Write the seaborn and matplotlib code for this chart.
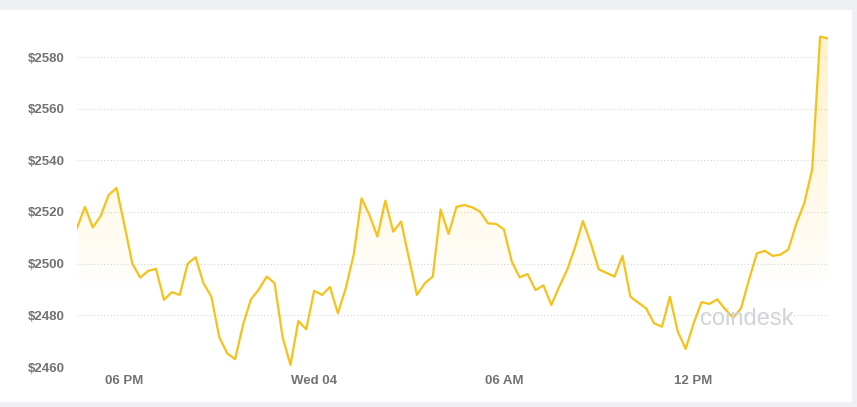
import numpy as np
import pandas as pd
import matplotlib
matplotlib.use("Agg")
import matplotlib.pyplot as plt
import matplotlib.dates as mdates
import seaborn as sns

# 15-minute ETH price samples, 16:30 Tue -> 16:15 Wed
start_time = "2021-08-03 16:30"
prices = [
    2513.8, 2522.0, 2514.0, 2518.5, 2526.6, 2529.3, 2515.0, 2500.0, 2494.6, 2497.2,
    2498.0, 2486.0, 2489.0, 2487.9, 2500.0, 2502.5, 2492.4, 2487.2, 2471.5, 2465.3,
    2463.0, 2476.3, 2486.2, 2490.0, 2495.0, 2492.4, 2471.7, 2460.8, 2477.8, 2474.6,
    2489.5, 2487.9, 2491.0, 2480.8, 2490.5, 2503.5, 2525.3, 2518.8, 2510.5, 2524.4,
    2512.4, 2516.3, 2502.0, 2487.9, 2492.4, 2495.0, 2521.0, 2511.5, 2522.0, 2522.7,
    2521.8, 2520.1, 2515.6, 2515.4, 2513.3, 2500.8, 2494.7, 2496.0, 2489.8, 2491.6,
    2484.0, 2491.1, 2497.6, 2506.3, 2516.5, 2507.9, 2497.8, 2496.4, 2495.0, 2503.0,
    2487.2, 2484.9, 2482.7, 2476.9, 2475.6, 2487.2, 2473.7, 2467.0, 2476.9, 2485.1,
    2484.4, 2486.2, 2482.3, 2479.1, 2482.7, 2493.7, 2504.0, 2505.0, 2503.0, 2503.5,
    2505.6, 2515.6, 2523.4, 2536.5, 2587.9, 2587.2,
]
y_ticks = [2460, 2480, 2500, 2520, 2540, 2560, 2580]
x_tick_times = ["2021-08-03 18:00", "2021-08-04 00:00", "2021-08-04 06:00", "2021-08-04 12:00"]
x_tick_labels = ["06 PM", "Wed 04", "06 AM", "12 PM"]

df = pd.DataFrame({
    "time": pd.date_range(start_time, periods=len(prices), freq="15min"),
    "price": prices,
})

line_color = "#f5c21b"
text_color = "#727272"
plt.rcParams["font.family"] = ["Liberation Sans", "DejaVu Sans"]

fig = plt.figure(figsize=(8.57, 4.07), dpi=100, facecolor="#eef0f4")

# white card behind the chart
bg = fig.add_axes([0, 5 / 407, 852 / 857, 392 / 407])
bg.set_facecolor("white")
bg.set_xticks([])
bg.set_yticks([])
for s in bg.spines.values():
    s.set_visible(False)
bg.set_zorder(-1)

ax = fig.add_axes([77 / 857, 40 / 407, 751 / 857, 341 / 407])
ax.set_facecolor("none")
ymin, ymax = 2460, 2592

sns.lineplot(data=df, x="time", y="price", ax=ax, color=line_color,
             linewidth=1.6, zorder=3)

# gradient fill under the line, fading out towards the lower part
xnum = mdates.date2num(df["time"])
poly = ax.fill_between(xnum, df["price"], ymin, color="none", linewidth=0)
levels = np.linspace(ymin, ymax, 200)
grad = np.zeros((200, 1, 4))
grad[:, 0, 0] = 1.0
grad[:, 0, 1] = 0.82
grad[:, 0, 2] = 0.30
grad[:, 0, 3] = np.clip((levels - 2492) / (2590 - 2492), 0, 1) ** 0.8 * 0.28
img = ax.imshow(grad, aspect="auto", origin="lower",
                extent=[xnum[0], xnum[-1], ymin, ymax], zorder=2)
img.set_clip_path(poly.get_paths()[0], transform=ax.transData)
ax.set_xlim(xnum[0], xnum[-1])
ax.set_ylim(ymin, ymax)

ax.set_yticks(y_ticks)
ax.set_yticklabels([f"${v}" for v in y_ticks])
for v in y_ticks:
    ax.axhline(v, color="#d6d6d6", linewidth=0.8, linestyle=(0, (1, 2)), zorder=1)

ax.set_xticks(mdates.date2num(pd.to_datetime(x_tick_times)))
ax.set_xticklabels(x_tick_labels)
ax.tick_params(axis="both", length=0, colors=text_color, labelsize=9.5)
ax.tick_params(axis="y", pad=9)
ax.tick_params(axis="x", pad=6)
for lbl in ax.get_xticklabels() + ax.get_yticklabels():
    lbl.set_fontweight("bold")
    lbl.set_color(text_color)

for s in ax.spines.values():
    s.set_visible(False)
ax.set_xlabel("")
ax.set_ylabel("")

# watermark
fig.text(700 / 857, 1 - 319 / 407, "coindesk", fontsize=17, color="#d0d3d8",
         va="center", ha="left", zorder=5)

fig.savefig("out.png", dpi=100, facecolor=fig.get_facecolor())
